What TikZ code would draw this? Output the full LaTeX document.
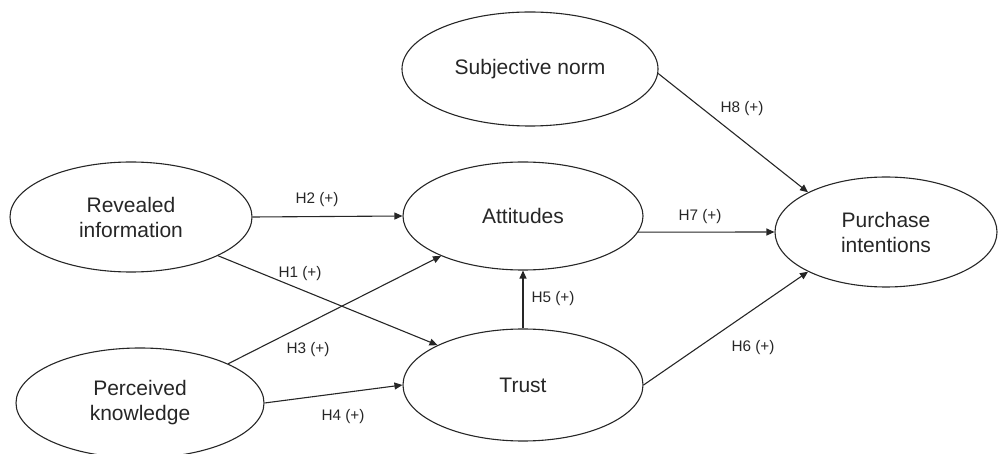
\documentclass[tikz,border=0pt]{standalone}
\usepackage{fontspec}
\setmainfont{Liberation Sans}
\usetikzlibrary{shapes.geometric,arrows.meta}
\begin{document}
\begin{tikzpicture}[x=1pt,y=-1pt,
  construct/.style={ellipse,draw=black!85,line width=1.1pt,inner sep=0pt,align=center,
    font=\fontsize{21}{25}\selectfont,text=black!85},
  arr/.style={draw=black!85,line width=1.1pt,-{Triangle[length=8pt,width=7pt]}},
  hyp/.style={font=\fontsize{15.3}{18}\selectfont,text=black!85,inner sep=0pt}]
\useasboundingbox (0,0) rectangle (999,454);
\node[construct,minimum width=256pt,minimum height=114pt] (sn) at (530,69) {Subjective norm};
\node[construct,minimum width=242pt,minimum height=110pt] (ri) at (131,217) {Revealed\\information};
\node[construct,minimum width=248pt,minimum height=110pt] (pk) at (140,403) {Perceived\\knowledge};
\node[construct,minimum width=240pt,minimum height=108pt] (att) at (523,216) {Attitudes};
\node[construct,minimum width=240pt,minimum height=112pt] (tr) at (523,385) {Trust};
\node[construct,minimum width=222pt,minimum height=110pt] (pi) at (886,232) {Purchase\\intentions};
% connectors
\draw[arr] (ri.east) -- (att.west);
\draw[arr] (ri.-24) -- (tr.155);
\draw[arr] (pk.24) -- (att.206);
\draw[arr] (pk.east) -- (tr.west);
\draw[arr] (tr.north) -- (att.south);
\draw[arr] (att.-8) -- (pi.west);
\draw[arr] (sn.-2) -- (pi.153);
\draw[arr] (tr.east) -- (pi.207);
% labels
\node[hyp] (h2) at (317,200) {H2 (+)};
\node[hyp] (h1) at (300,274) {H1 (+)};
\node[hyp] (h3) at (308,350) {H3 (+)};
\node[hyp] (h4) at (343,417) {H4 (+)};
\node[hyp] (h5) at (553,299) {H5 (+)};
\node[hyp] (h7) at (700,217) {H7 (+)};
\node[hyp] (h8) at (742,109) {H8 (+)};
\node[hyp] (h6) at (753,348) {H6 (+)};
\end{tikzpicture}
\end{document}
